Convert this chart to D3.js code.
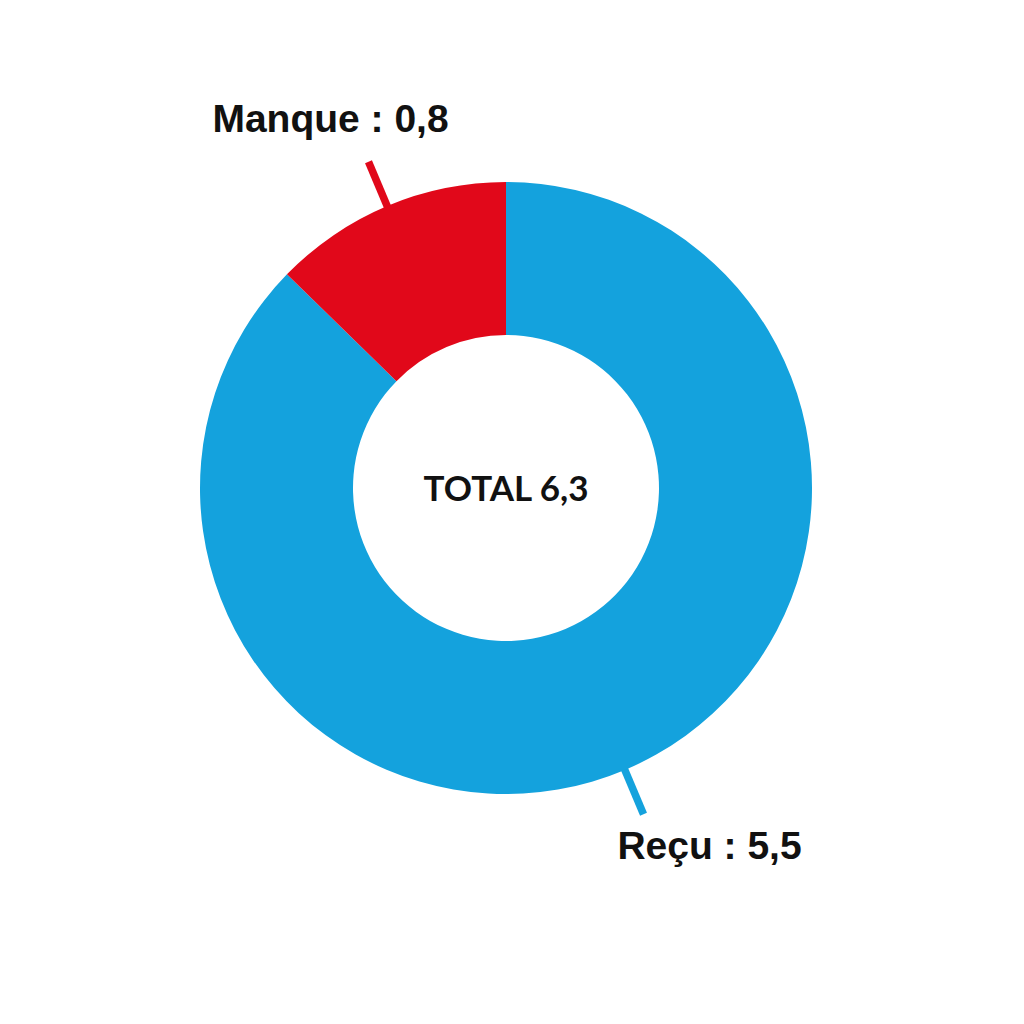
<!DOCTYPE html>
<html>
<head>
<meta charset="utf-8">
<script src="https://cdn.jsdelivr.net/npm/d3@7/dist/d3.min.js"></script>
<style>
  html, body { margin: 0; padding: 0; background: #fff; }
  svg { display: block; }
</style>
</head>
<body>
<svg id="chart" width="1024" height="1024"></svg>
<script>
// Chart data
const categories = ["Reçu", "Manque"];
const values     = [5.5, 0.8];
const colors     = ["#14A2DD", "#E1081A"];
const totalLabel = "TOTAL";

const fmt = v => String(v).replace(".", ",");

const W = 1024, H = 1024;
const cx = 506, cy = 488;
const R_OUT = 306, R_IN = 153;

const svg = d3.select("#chart");
svg.append("rect").attr("width", W).attr("height", H).attr("fill", "#fff");

const g = svg.append("g").attr("transform", `translate(${cx},${cy})`);

// Red slice ends at 12 o'clock, blue runs clockwise from there.
const data = categories.map((c, i) => ({ name: c, value: values[i], color: colors[i] }));
const pie = d3.pie().value(d => d.value).sort(null);
const arcs = pie(data);

const arc = d3.arc().innerRadius(R_IN).outerRadius(R_OUT);

// Leader lines first so the wedges cover their inner end
const lineIn = d3.arc().innerRadius(296).outerRadius(296);
const lineOut = d3.arc().innerRadius(354).outerRadius(354);
g.selectAll(".leader")
  .data(arcs)
  .join("line")
  .attr("class", "leader")
  .attr("x1", d => lineIn.centroid(d)[0])
  .attr("y1", d => lineIn.centroid(d)[1])
  .attr("x2", d => lineOut.centroid(d)[0])
  .attr("y2", d => lineOut.centroid(d)[1])
  .attr("stroke", d => d.data.color)
  .attr("stroke-width", 7.5);

g.selectAll(".slice")
  .data(arcs)
  .join("path")
  .attr("class", "slice")
  .attr("d", arc)
  .attr("fill", d => d.data.color);

// Outer labels placed off the end of each leader line
g.selectAll(".label")
  .data(arcs)
  .join("text")
  .attr("class", "label")
  .attr("text-anchor", "middle")
  .attr("x", d => {
    const [x] = lineOut.centroid(d);
    return x < 0 ? x - 38 : x + 66;
  })
  .attr("y", d => {
    const [, y] = lineOut.centroid(d);
    return y < 0 ? y - 30 : y + 45;
  })
  .attr("font-family", "'Liberation Sans', Arial, sans-serif")
  .attr("font-weight", 700)
  .attr("font-size", 39)
  .attr("fill", "#111")
  .text(d => `${d.data.name} : ${fmt(d.data.value)}`);

// Centre total
g.append("text")
  .attr("text-anchor", "middle")
  .attr("dominant-baseline", "central")
  .attr("y", -1)
  .attr("font-family", "Lato, 'Noto Sans', sans-serif")
  .attr("font-weight", 700)
  .attr("font-size", 35)
  .attr("fill", "#111")
  .text(`${totalLabel} ${fmt(d3.sum(values))}`);
</script>
</body>
</html>
